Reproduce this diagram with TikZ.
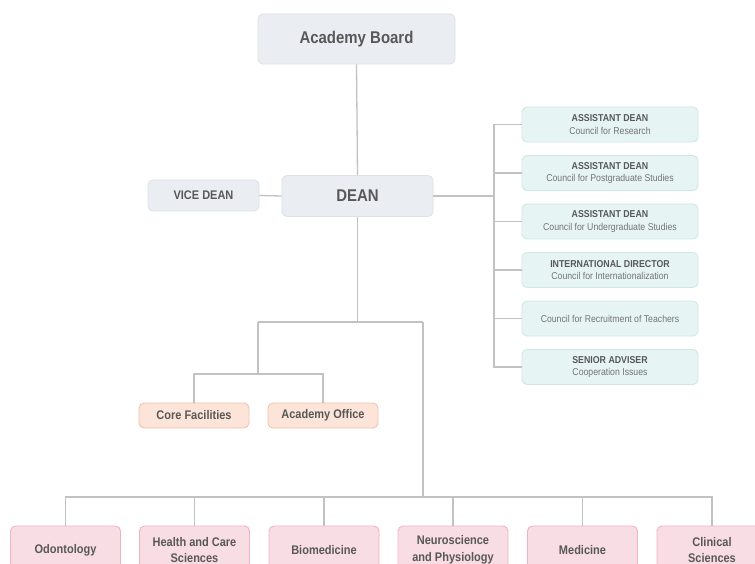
\documentclass[tikz,border=0pt]{standalone}
\usepackage{fontspec}
\setmainfont{Liberation Sans}[FakeStretch=0.88]
\definecolor{txt}{HTML}{585858}
\definecolor{subtxt}{HTML}{747474}
\definecolor{lin}{HTML}{C2C2C2}
\definecolor{grayfill}{HTML}{EAEEF2}
\definecolor{graydraw}{HTML}{DCE2E8}
\definecolor{tealfill}{HTML}{E6F4F4}
\definecolor{tealdraw}{HTML}{CFE7E7}
\definecolor{orfill}{HTML}{FCE4D9}
\definecolor{ordraw}{HTML}{F4C2AC}
\definecolor{pkfill}{HTML}{F8DDE4}
\definecolor{pkdraw}{HTML}{EDB5C3}
\newcommand{\subline}[1]{{\fontsize{9.9}{12}\selectfont\mdseries\color{subtxt}#1}}
\begin{document}
\begin{tikzpicture}[x=1pt,y=-1pt,
  box/.style={draw, rounded corners=5pt, line width=0.9pt, align=center, inner sep=0pt, text=txt, font=\bfseries},
  graybox/.style={box, fill=grayfill, draw=graydraw},
  tealbox/.style={box, fill=tealfill, draw=tealdraw, minimum width=176pt, minimum height=35pt, font=\fontsize{10}{12.5}\selectfont\bfseries},
  orbox/.style={box, fill=orfill, draw=ordraw, minimum width=110pt, minimum height=25pt, font=\fontsize{12.5}{15}\selectfont\bfseries},
  pkbox/.style={box, fill=pkfill, draw=pkdraw, minimum width=110pt, minimum height=48pt, font=\fontsize{12.5}{16.5}\selectfont\bfseries},
  conn/.style={draw=lin, line width=1.3pt}
]
\useasboundingbox (0,0) rectangle (755,564);
\clip (0,0) rectangle (755,564);
\fill[white] (0,0) rectangle (755,564);

% top
\node[graybox, minimum width=197pt, minimum height=50pt, font=\fontsize{17}{20}\selectfont\bfseries] (board) at (356.5,39) {Academy Board};
\node[graybox, minimum width=151pt, minimum height=41pt, font=\fontsize{17}{20}\selectfont\bfseries] (dean) at (357.5,196) {DEAN};
\node[graybox, minimum width=111pt, minimum height=31pt, font=\fontsize{12.5}{15}\selectfont\bfseries] (vice) at (203.5,195.5) {VICE DEAN};

% right column
\node[tealbox] (r1) at (610,124.5) {ASSISTANT DEAN\\\subline{Council for Research}};
\node[tealbox] (r2) at (610,173) {ASSISTANT DEAN\\\subline{Council for Postgraduate Studies}};
\node[tealbox] (r3) at (610,221.5) {ASSISTANT DEAN\\\subline{Council for Undergraduate Studies}};
\node[tealbox] (r4) at (610,270) {INTERNATIONAL DIRECTOR\\\subline{Council for Internationalization}};
\node[tealbox] (r5) at (610,318.5) {\subline{Council for Recruitment of Teachers}};
\node[tealbox] (r6) at (610,367) {SENIOR ADVISER\\\subline{Cooperation Issues}};

% middle
\node[orbox] (core) at (194,415.5) {Core Facilities};
\node[orbox] (office) at (323,415.5) {Academy Office};

% faculties
\node[pkbox] (f1) at (65.5,550) {Odontology};
\node[pkbox] (f2) at (194.5,550) {Health and Care\\Sciences};
\node[pkbox] (f3) at (324,550) {Biomedicine};
\node[pkbox] (f4) at (453,550) {Neuroscience\\and Physiology};
\node[pkbox] (f5) at (582.5,550) {Medicine};
\node[pkbox] (f6) at (712,550) {Clinical\\Sciences};

% coordinates
\coordinate (rbus) at (494,196);
\coordinate (mid) at (357.5,322);
\coordinate (jl) at (258,322);
\coordinate (jr) at (423,322);
\coordinate (c1) at (258,374);
\coordinate (c2) at (423,497);

% connectors
\draw[conn] (board.south) -- (dean.north);
\draw[conn] (vice.east) -- (dean.west);
\draw[conn] (dean.east) -- (rbus);
\foreach \n in {r1,r2,r3,r4,r5,r6} \draw[conn] (rbus) |- (\n.west);
\draw[conn] (dean.south) -- (mid);
\draw[conn] (jl) -- (jr);
\draw[conn] (jl) -- (c1);
\draw[conn] (c1) -| (core.north);
\draw[conn] (c1) -| (office.north);
\draw[conn] (jr) -- (c2);
\foreach \n in {f1,f2,f3,f4,f5,f6} \draw[conn] (c2) -| (\n.north);
\end{tikzpicture}
\end{document}
